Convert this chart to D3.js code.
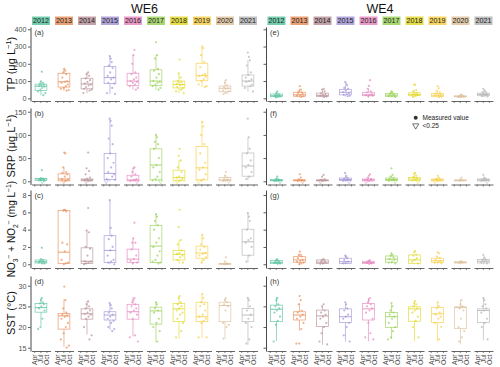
<!DOCTYPE html>
<html><head><meta charset="utf-8">
<script src="https://cdn.jsdelivr.net/npm/d3@7"></script>
<style>
body{margin:0;background:#fff}
text{font-family:"Liberation Sans",Arial,sans-serif}
</style>
</head><body>
<svg id="c" width="500" height="367"></svg>
<script>
// ---------------- DATA ----------------
const years = [2012,2013,2014,2015,2016,2017,2018,2019,2020,2021];
const yearColors = ["#5cc49f","#e8915e","#b8939a","#a596d6","#e689c0","#9bd25a","#e2d92b","#f7cf4a","#ddc19c","#b5b5b5"];
const sites = ["WE6","WE4"];
const monthLabels = ["Apr","Jul","Oct"];
const monthDays = [91,182,274];
const panelLetters = [["(a)","(e)"],["(b)","(f)"],["(c)","(g)"],["(d)","(h)"]];
const legendLabels = ["Measured value","<0.25"];
const detectionLimit = 0.25;

// sampling day-of-year per year (index-matched with point values)
const sampleDays = [
 [205,190,220,176,234,198,162,245,212,184,150,258,228,140,270],
 [196,212,181,226,168,240,204,155,252,219,188,145,265,232,282],
 [210,186,224,172,238,200,160,250,216,178,148,262,230,138,276],
 [188,203,218,174,232,196,158,246,210,166,256,226,146,268,136],
 [214,198,182,228,170,242,206,156,254,190,222,144,266,236,280],
 [192,208,176,222,164,236,200,152,248,214,184,142,260,230,274],
 [202,188,218,174,230,196,160,244,210,168,252,226,148,264,138],
 [196,212,180,226,166,240,204,154,250,218,186,142,262,234,278],
 [206,192,222,178,236,200,164,248,214,170,256,230,150,268,140],
 [190,206,220,176,234,198,160,246,212,168,254,228,146,266,136]
];

// tick values
const tpTicks = [0,100,200,300,400];
const srpTicks = [0,50,100,150];
const noTicks = [0,2,4,6,8];
const sstTicks = [15,20,25,30];

// boxes: [lower whisker, q1, median, q3, upper whisker]
const tpBoxWE6 = [[18,45,70,82,98],[44,65,96,145,170],[30,55,83,116,150],[25,85,120,185,245],[50,75,100,145,250],[50,75,100,165,250],[30,60,80,100,145],[65,102,131,203,300],[25,38,58,71,105],[38,71,100,135,222]];
const tpBoxWE4 = [[5,10,15,25,35],[5,12,20,35,55],[5,10,17,30,45],[10,20,35,52,78],[8,15,20,35,55],[5,10,18,28,40],[5,15,22,32,48],[5,10,18,28,45],[5,8,10,15,20],[8,15,22,30,42]];
const tpPtsWE6 = [
 [154,98,90,85,80,75,72,68,60,50,40,30,18],
 [170,160,150,140,120,100,96,90,80,70,60,55,48,44],
 [150,140,130,115,105,95,85,80,75,65,55,50,45,30],
 [245,230,210,190,175,150,130,120,110,90,85,60,30,25],
 [280,250,200,150,140,120,110,100,95,90,80,70,60,50],
 [325,250,230,170,160,140,120,100,95,90,80,70,60,50],
 [225,145,120,100,95,90,82,80,75,65,60,50,40,30],
 [300,290,250,210,180,140,135,130,125,110,100,80,70,65],
 [105,90,75,65,58,55,45,40,30,25],
 [265,240,220,190,150,135,120,110,100,95,80,70,60,40]
];
const tpPtsWE4 = [
 [40,30,25,20,18,15,12,10,8,5],
 [70,50,40,35,30,25,20,15,12,8],
 [55,50,40,30,25,20,15,10,8],
 [95,85,75,60,55,45,35,30,25,20,15,12],
 [105,72,55,40,35,25,20,18,15,10],
 [40,35,30,25,20,18,15,12,8],
 [80,78,48,40,30,25,22,18,15,8],
 [70,58,45,35,28,22,18,15,10,6],
 [22,18,15,12,10,8,6],
 [55,45,40,35,30,25,22,20,15,12,10]
];

const srpBoxWE6 = [[0,2,5,6,7],[0,1,5,16,30],[0,1,3,5,8],[0,4,17,60,135],[0,1,3,13,28],[0,3,35,70,100],[0,1,8,24,46],[0,3,29,75,128],[0,1,3,8,15],[2,11,33,61,95]];
const srpBoxWE4 = [[0,1,2,4,7],[0,1,2,3,5],[0,1,2,3,5],[0,2,4,7,12],[0,1,3,5,9],[0,2,4,7,12],[0,2,5,8,13],[0,1,3,5,8],[0,1,2,3,4],[0,1,3,5,8]];
const srpPtsWE6 = [
 [24,7,6,5,4,3,2,1,0],
 [62,60,30,20,18,15,10,5,3,1,0],
 [62,28,22,15,8,5,3,2,1,0],
 [135,130,120,92,80,60,50,40,30,20,15,10,5,3,0],
 [30,28,20,15,10,5,3,1,0],
 [100,95,85,80,70,50,35,30,20,10,5,2,0],
 [70,55,45,30,20,10,8,5,2,0],
 [128,118,100,80,60,40,30,25,15,5,2,0],
 [20,12,8,5,3,2,1,0],
 [135,95,70,60,45,35,30,20,10,5]
];
const srpPtsWE4 = [
 [10,6,4,3,2,1,0.5,0],
 [15,8,4,2,1,0],
 [14,10,5,3,2,1,0],
 [18,12,8,6,4,2,1,0],
 [15,12,8,5,3,2,1,0],
 [28,14,10,7,5,3,2,1,0],
 [18,16,12,9,6,4,2,0],
 [12,8,5,4,3,2,1,0],
 [8,4,2,1],
 [14,8,6,4,3,2,1,0]
];

const noBoxWE6 = [[0.1,0.15,0.3,0.5,0.6],[0,0.1,1.4,6.2,6.3],[0,0.1,0.35,1.9,3.9],[0,0.2,1.6,3.3,7.4],[0.1,0.2,0.6,1.75,3.0],[0.1,0.2,2.1,4.5,5.8],[0.1,0.5,1.15,1.6,2.8],[0.1,0.7,1.3,2.1,3.4],[0,0,0.05,0.1,0.15],[0.2,1.05,2.6,4.05,6.0]];
const noBoxWE4 = [[0.05,0.1,0.23,0.45,0.6],[0,0.23,0.5,0.88,1.1],[0,0.1,0.25,0.5,0.6],[0,0.1,0.3,0.7,1.0],[0,0.08,0.2,0.35,0.45],[0.1,0.23,0.6,0.96,1.27],[0,0.1,0.5,1.08,1.1],[0.05,0.2,0.4,0.7,0.9],[0.1,0.15,0.2,0.3,0.35],[0.05,0.15,0.35,0.55,0.8]];
const noPtsWE6 = [
 [1.9,0.6,0.5,0.4,0.3,0.3,0.2,0.1,0.1],
 [6.3,6.25,6.2,6.1,2.5,2.3,1.5,0.5,0.2,0.1,0],
 [6.5,3.9,3.7,2.0,1.8,1.0,0.35,0.3,0.2,0.1,0],
 [7.4,4.2,3.3,2.9,2.0,1.6,1.0,0.5,0.3,0.2,0],
 [4.8,3.0,2.5,2.5,1.7,1.0,0.6,0.4,0.2,0.1],
 [5.8,5.5,5.0,4.5,4.0,3.0,2.5,2.0,1.5,1.0,0.5,0.3,0.2,0.1],
 [6.3,4.3,2.8,2.3,1.6,1.3,1.2,1.0,0.8,0.5,0.2],
 [3.4,3.0,2.3,2.0,1.7,1.3,1.2,1.0,0.8,0.5,0.2],
 [0.8,0.3,0.1,0.05,0.05,0],
 [5.9,5.5,5.0,4.0,3.0,2.8,2.5,2.0,1.0,0.3]
];
const noPtsWE4 = [
 [0.6,0.5,0.4,0.3,0.25,0.2,0.15,0.1,0.05],
 [1.46,1.1,1.08,0.9,0.7,0.5,0.4,0.3,0.2,0.1,0],
 [0.6,0.5,0.4,0.3,0.2,0.1,0.05],
 [1.0,0.9,0.7,0.5,0.3,0.2,0.1],
 [0.45,0.4,0.3,0.2,0.15,0.1,0.05],
 [1.27,1.1,0.96,0.8,0.6,0.5,0.3,0.2,0.1],
 [1.53,1.4,1.1,1.0,0.7,0.5,0.3,0.1],
 [1.38,1.27,0.9,0.7,0.5,0.4,0.3,0.2,0.1],
 [0.35,0.3,0.2,0.15],
 [1.08,0.8,0.6,0.5,0.4,0.3,0.2,0.1]
];

const sstBoxWE6 = [[20.3,23.6,24.7,25.7,27.0],[15.2,19.5,22.7,23.3,26.7],[18.2,21.9,23.2,24.4,26.3],[19.3,21.7,22.9,23.7,25.7],[17.7,21.9,23.7,25.5,27.2],[16.3,20.7,23.9,24.8,26.1],[17.2,21.3,24.4,25.7,27.4],[17.4,21.3,22.5,26.0,28.0],[17.2,21.3,25.2,26.0,27.0],[15.7,21.3,22.9,24.5,27.3]];
const sstBoxWE4 = [[16.6,21.3,24.3,25.3,27.2],[19.1,21.7,22.9,23.7,25.7],[15.7,20.1,22.7,24.1,24.9],[16.5,21.1,22.5,24.4,25.7],[16.5,21.7,24.4,25.7,27.0],[17.1,19.9,22.5,23.5,25.5],[16.5,21.4,24.4,24.9,26.2],[16.5,21.1,23.2,24.7,26.0],[15.8,19.6,24.7,24.9,26.5],[16.8,21.1,24.0,24.4,27.2]];
const sstPtsWE6 = [
 [27,26.5,26,25.7,25.5,25,24.5,24,22,20,19.5],
 [29.8,26.5,24.5,23.5,23,22.8,22.5,22,21,20,18.5,17,15.5,15],
 [26.2,25.5,25,24.5,24,23.5,23.2,23,22.5,22,20,18,17],
 [25.8,25.3,24.5,23.5,23,22.5,22,21.5,21,20,19.5,19],
 [27,26.5,26,25.5,25,24.5,24,23.5,23,22,18,17.5,16.5],
 [26,25.5,24.5,24,23.5,22,21,20,19,16.5],
 [27.5,27,26,25.5,25,24.5,24,23.5,23,22,21,19,17.5],
 [28,27,26,25.5,25,24,23,22.5,22,21.5,21,17.5,17.5],
 [27,26.5,26,25.5,25,24,21,20.5,20,17.2],
 [27,26.5,25,24,23,22,21,20,17,16]
];
const sstPtsWE4 = [
 [27,26.5,25.5,25,24.5,24,23.5,22.5,21.5,20.5,16.5],
 [27.5,26.5,25.5,24,23.5,23,22.5,22,21,19.5,16,16],
 [25.5,25,24,23.5,23,22.5,22,21,20,18.5,16.5,15.8],
 [26,25.5,24.5,24,23,22.5,22,21,20,18,16.5],
 [27,26.5,26,25.5,25,24.5,24,23.5,22,21,18.5,17.5,17],
 [25.8,25,24,23.5,23,22.5,22,21,20,19,17.5,17],
 [26.3,25.8,25.5,25,24.5,24,23.5,22.5,21.5,20,17.5],
 [26,25,24.5,23.5,23,22.5,22,21,20,17],
 [26.5,25.5,25,24.5,24,22,20,19,17.5,16.5],
 [27,26.5,25.5,25,24.5,24,23.5,22,21,20,17]
];

// ---------------- LAYOUT ----------------
const svg = d3.select("#c");
const facetW = 19, facetPitch = 23;
const siteLeft = [31.5, 267];
const rowExtent = [[27,101],[108,184.5],[190,268],[276,351]];
const rowDomains = [[-15.65,413.3],[-6.9,158],[-0.43,8.58],[14.2,32.35]];
const xDomainDays = [50,335];
const boxDay = 192, boxHalfDays = 88;
const axisColor = "#333";

const rows = [
 {ticks:tpTicks, box:[tpBoxWE6,tpBoxWE4], pts:[tpPtsWE6,tpPtsWE4], limitFlag:false},
 {ticks:srpTicks, box:[srpBoxWE6,srpBoxWE4], pts:[srpPtsWE6,srpPtsWE4], limitFlag:true},
 {ticks:noTicks, box:[noBoxWE6,noBoxWE4], pts:[noPtsWE6,noPtsWE4], limitFlag:false},
 {ticks:sstTicks, box:[sstBoxWE6,sstBoxWE4], pts:[sstPtsWE6,sstPtsWE4], limitFlag:false}
];

// site titles and strips
sites.forEach((s, si) => {
  const x0 = siteLeft[si], x1 = siteLeft[si] + 9*facetPitch + facetW;
  svg.append("text").attr("x", (x0+x1)/2).attr("y", 12.5).attr("text-anchor","middle")
    .attr("font-size", 12.5).attr("fill","#111").text(s);
  years.forEach((yr, i) => {
    const fx = x0 + i*facetPitch;
    svg.append("rect").attr("x", fx+0.5).attr("y", 16.5).attr("width", facetW-1).attr("height", 8.5)
      .attr("fill", yearColors[i]).attr("fill-opacity", 0.85);
    svg.append("text").attr("x", fx + facetW/2).attr("y", 23.3).attr("text-anchor","middle")
      .attr("font-size", 7.2).attr("fill","#222").text(yr);
  });
});

const tri = d3.symbol().type(d3.symbolTriangle).size(8);

rows.forEach((row, r) => {
  const [top, bottom] = rowExtent[r];
  const ys = d3.scaleLinear().domain(rowDomains[r]).range([bottom, top]);
  sites.forEach((s, si) => {
    // y axis
    const ya = d3.axisLeft(ys).tickValues(row.ticks).tickSize(2.5).tickSizeOuter(0).tickPadding(1.5);
    if (si === 1) ya.tickFormat("");
    const g = svg.append("g").attr("transform", `translate(${siteLeft[si]-1},0)`).call(ya);
    g.select(".domain").attr("stroke", axisColor).attr("stroke-width", 0.9);
    g.selectAll(".tick line").attr("stroke", axisColor).attr("stroke-width", 0.8);
    g.selectAll("text").attr("font-size", 7.2).attr("fill", "#4d4d4d").attr("font-family","Liberation Sans, Arial, sans-serif");

    // panel letter
    svg.append("text").attr("x", siteLeft[si] + 3).attr("y", top + 7.5)
      .attr("font-size", 7.5).attr("fill", "#333").text(panelLetters[r][si]);

    years.forEach((yr, i) => {
      const fx = siteLeft[si] + i*facetPitch;
      const xs = d3.scaleLinear().domain(xDomainDays).range([fx, fx + facetW]);
      const col = yearColors[i];
      // x axis
      const xa = d3.axisBottom(xs).tickValues(monthDays).tickSize(2).tickSizeOuter(0)
        .tickFormat((d, k) => r === 3 ? monthLabels[k] : "");
      const gx = svg.append("g").attr("transform", `translate(0,${bottom})`).call(xa);
      gx.select(".domain").attr("stroke", "#555").attr("stroke-width", 0.9);
      gx.selectAll(".tick line").attr("stroke", "#555").attr("stroke-width", 0.7);
      gx.selectAll("text").attr("font-size", 6.8).attr("fill", "#4d4d4d")
        .attr("font-family","Liberation Sans, Arial, sans-serif")
        .attr("transform", "rotate(-90)").attr("x", -3.5).attr("y", 0).attr("dy", "0.35em")
        .style("text-anchor", "end");

      // box
      const b = row.box[si][i];
      const bx0 = xs(boxDay - boxHalfDays), bx1 = xs(boxDay + boxHalfDays), bxm = xs(boxDay);
      const bg = svg.append("g").attr("stroke", col).attr("stroke-width", 0.75)
        .attr("stroke-opacity", 0.85).attr("fill", "none");
      bg.append("line").attr("x1", bxm).attr("x2", bxm).attr("y1", ys(b[0])).attr("y2", ys(b[1]));
      bg.append("line").attr("x1", bxm).attr("x2", bxm).attr("y1", ys(b[3])).attr("y2", ys(b[4]));
      bg.append("rect").attr("x", bx0).attr("y", ys(b[3])).attr("width", bx1 - bx0)
        .attr("height", Math.max(0.5, ys(b[1]) - ys(b[3])));
      bg.append("line").attr("x1", bx0).attr("x2", bx1).attr("y1", ys(b[2])).attr("y2", ys(b[2]))
        .attr("stroke-width", 1.0);

      // points
      const pts = row.pts[si][i];
      pts.forEach((v, k) => {
        const px = xs(sampleDays[i][k]), py = ys(v);
        if (row.limitFlag && v < detectionLimit) {
          svg.append("path").attr("d", tri).attr("transform", `translate(${px},${py}) rotate(180)`)
            .attr("fill", "none").attr("stroke", col).attr("stroke-width", 0.6).attr("stroke-opacity", 0.8);
        } else {
          svg.append("circle").attr("cx", px).attr("cy", py).attr("r", 1.1)
            .attr("fill", col).attr("fill-opacity", 0.7);
        }
      });
    });
  });
});

// y-axis titles with sub/superscripts
function yTitle(cy, parts, fs) {
  const t = svg.append("text").attr("transform", `translate(15,${cy}) rotate(-90)`)
    .attr("text-anchor", "middle").attr("font-size", fs).attr("fill", "#111");
  let shift = 0;
  parts.forEach(p => {
    const target = p.sup ? -fs*0.38 : p.sub ? fs*0.25 : 0;
    t.append("tspan").text(p.t).attr("dy", target - shift)
      .attr("font-size", (p.sup || p.sub) ? fs*0.68 : fs);
    shift = target;
  });
  if (shift !== 0) t.append("tspan").text("\u200b").attr("dy", -shift);
}
yTitle(64, [{t:"TP (μg L"},{t:"−1",sup:true},{t:")"}], 11);
yTitle(146, [{t:"SRP (μg L"},{t:"−1",sup:true},{t:")"}], 11);
yTitle(229, [{t:"NO"},{t:"3",sub:true},{t:"−",sup:true},{t:" + NO"},{t:"2",sub:true},{t:"−",sup:true},{t:" (mg L"},{t:"−1",sup:true},{t:")"}], 10);
yTitle(313, [{t:"SST (°C)"}], 11);

// legend in panel (f)
const lg = svg.append("g");
lg.append("circle").attr("cx", 415.7).attr("cy", 117.7).attr("r", 2).attr("fill", "#333");
lg.append("path").attr("d", d3.symbol().type(d3.symbolTriangle).size(16))
  .attr("transform", "translate(415.7,125.6) rotate(180)").attr("fill", "none")
  .attr("stroke", "#333").attr("stroke-width", 0.7);
lg.append("text").attr("x", 422.5).attr("y", 120).attr("font-size", 6.5).attr("fill", "#222").text(legendLabels[0]);
lg.append("text").attr("x", 422.5).attr("y", 127.8).attr("font-size", 6.5).attr("fill", "#222").text(legendLabels[1]);
</script>
</body></html>
